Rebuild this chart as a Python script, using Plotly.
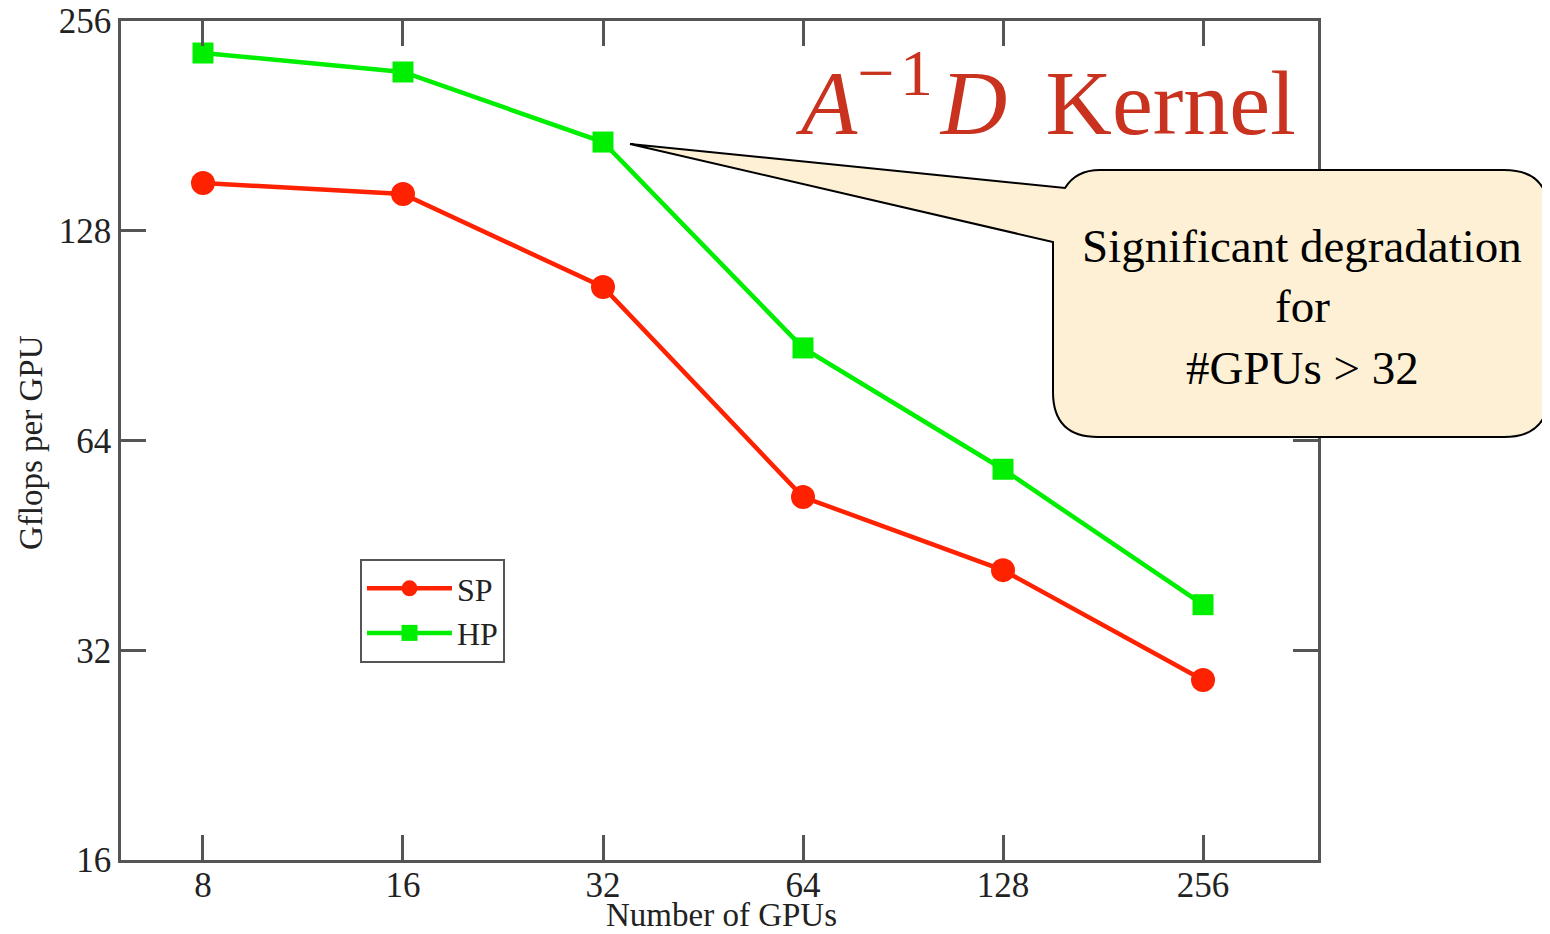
import plotly.graph_objects as go

gpus = [8, 16, 32, 64, 128, 256]
tick_labels = ["8", "16", "32", "64", "128", "256"]
sp = [149.9, 144.5, 106.3, 53.1, 41.7, 29.0]
hp = [230.3, 216.3, 171.6, 86.9, 58.2, 37.2]
y_ticks = [16, 32, 64, 128, 256]

OFF = 8  # page body margin
W, H = 1550 - OFF, 934 - OFF
L, R, T, B = 121 - OFF, 1318 - OFF, 21 - OFF, 860 - OFF
FONT = "Liberation Serif, Times New Roman, serif"
AX = "#555555"
TXT = "#222222"

def px(x):  # page x -> paper
    return (x - OFF - L) / (R - L)

def py(y):  # page y -> paper
    return (B - (y - OFF)) / (B - T)

fig = go.Figure()
fig.add_trace(go.Scatter(x=gpus, y=sp, name="SP", mode="lines+markers",
                         line=dict(color="#ff2200", width=4.5),
                         marker=dict(symbol="circle", size=24, color="#ff2200")))
fig.add_trace(go.Scatter(x=gpus, y=hp, name="HP", mode="lines+markers",
                         line=dict(color="#00ee00", width=4.5),
                         marker=dict(symbol="square", size=21, color="#00ee00")))

axis_common = dict(showline=True, linecolor=AX, linewidth=2.5, mirror="ticks",
                   ticks="inside", ticklen=25, tickwidth=2.5, tickcolor=AX,
                   showgrid=False, zeroline=False, automargin=False,
                   ticklabeloverflow="allow",
                   tickfont=dict(family=FONT, size=35, color=TXT))

fig.update_xaxes(type="log", range=[0.7797, 2.5813], tickvals=gpus, ticktext=tick_labels,
                 ticklabelstandoff=-8, **axis_common)
fig.update_yaxes(type="log", range=[1.20412, 2.40824], tickvals=y_ticks,
                 ticktext=[str(v) for v in y_ticks], **axis_common)

# axis titles
fig.add_annotation(x=px(721), y=py(915), xref="paper", yref="paper", text="Number of GPUs",
                   showarrow=False, xanchor="center", yanchor="middle",
                   font=dict(family=FONT, size=33, color=TXT))
fig.add_annotation(x=px(31), y=py(443), xref="paper", yref="paper", text="Gflops per GPU",
                   showarrow=False, xanchor="center", yanchor="middle", textangle=-90,
                   font=dict(family=FONT, size=33, color=TXT))

# callout balloon
tip = (630, 144)
pts = [
    ("M", [tip]),
    ("L", [(1065, 188)]),
    ("Q", [(1076, 170), (1100, 170)]),
    ("L", [(1504, 170)]),
    ("Q", [(1549, 170), (1549, 215)]),
    ("L", [(1549, 392)]),
    ("Q", [(1549, 437), (1504, 437)]),
    ("L", [(1098, 437)]),
    ("Q", [(1053, 437), (1053, 392)]),
    ("L", [(1053, 242)]),
]
path = ""
for cmd, cs in pts:
    path += cmd + " " + " ".join(f"{px(x):.5f},{py(y):.5f}" for x, y in cs) + " "
path += "Z"
fig.add_shape(type="path", path=path, xref="paper", yref="paper",
              fillcolor="#fdf0d4", line=dict(color="black", width=2), layer="above")

for text, yy in [("Significant degradation", 246), ("for", 306), ("#GPUs &gt; 32", 368)]:
    fig.add_annotation(x=px(1302), y=py(yy), xref="paper", yref="paper", text=text,
                       showarrow=False, xanchor="center", yanchor="middle",
                       font=dict(family=FONT, size=47, color="black"))

fig.add_annotation(x=px(1298), y=py(95), xref="paper", yref="paper",
                   text=("<i>A</i><sup><span style='font-size:66px'>\u2212\u200a1</span></sup>"
                         "\u200a<i>D</i>\u200a\u200a Kernel"),
                   showarrow=False, xanchor="right", yanchor="middle",
                   font=dict(family=FONT, size=92, color="#c8321e"))

fig.update_layout(
    width=W, height=H,
    margin=dict(l=L, r=W - R, t=T, b=H - B, autoexpand=False),
    paper_bgcolor="white", plot_bgcolor="white",
    showlegend=True,
    legend=dict(x=px(360), y=py(559), xanchor="left", yanchor="top",
                bgcolor="white", bordercolor=AX, borderwidth=2,
                font=dict(family=FONT, size=32, color=TXT),
                itemwidth=85, tracegroupgap=0),
)

fig.write_html("out.html")
